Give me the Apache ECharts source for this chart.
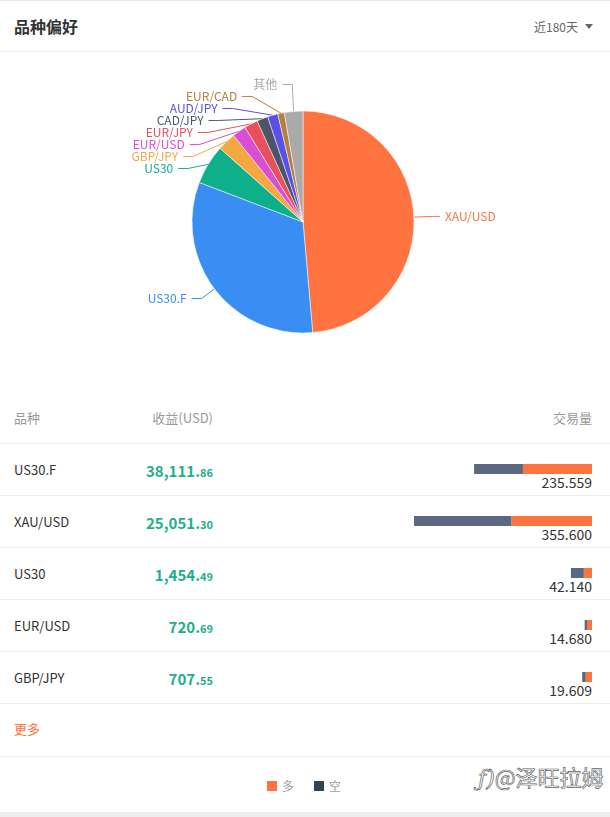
<!DOCTYPE html>
<html>
<head>
<meta charset="utf-8">
<script src="https://cdn.jsdelivr.net/npm/echarts@6/dist/echarts.min.js"></script>
<style>
  html, body { margin:0; padding:0; background:#fff; }
  body { width:610px; height:817px; position:relative; overflow:hidden;
         font-family:"Noto Sans CJK SC","Noto Sans",sans-serif; }
  .abs { position:absolute; white-space:nowrap; }
  .line { position:absolute; left:0; width:610px; height:1px; background:#ececec; }
  #chart { position:absolute; left:0; top:0; width:610px; height:817px; }
  .wm { color:#fff; -webkit-text-stroke:0.7px #666; }
</style>
</head>
<body>
<div class="line" style="top:0;background:#e6e6e6;"></div>
<div class="abs" style="left:14px;top:14px;font-size:16px;font-weight:bold;color:#333;line-height:24px;">品种偏好</div>
<div class="abs" style="right:32px;top:18px;font-size:12px;color:#666;line-height:18px;">近180天</div>
<div class="abs" style="left:585px;top:24px;width:0;height:0;border-left:4px solid transparent;border-right:4px solid transparent;border-top:5px solid #666;"></div>
<div class="line" style="top:51px;"></div>

<div class="abs" style="left:14px;top:409px;font-size:13px;color:#999;line-height:18px;">品种</div>
<div class="abs" style="right:397px;top:409px;font-size:13px;color:#999;line-height:18px;">收益(USD)</div>
<div class="abs" style="right:18px;top:409px;font-size:13px;color:#999;line-height:18px;">交易量</div>
<div class="line" style="top:443px;"></div>
<div id="rows"></div>
<div class="abs" style="left:14px;top:720px;font-size:13px;color:#ff7340;line-height:18px;">更多</div>
<div class="line" style="top:756px;"></div>
<div class="abs wm" style="left:478px;top:761px;font-size:22px;line-height:30px;"><span style="font-style:italic;font-family:'DejaVu Serif';">ƒ)</span>@泽旺拉姆</div>
<div class="abs" style="left:0;top:812px;width:610px;height:5px;background:#eeeeee;"></div>
<div id="chart"></div>
<script>
// ---- data ----
const pieNames  = ['XAU/USD','US30.F','US30','GBP/JPY','EUR/USD','EUR/JPY','CAD/JPY','AUD/JPY','EUR/CAD','其他'];
const pieValues = [355.6, 235.559, 42.14, 19.609, 14.68, 14.5, 11.8, 11.0, 7.0, 19.7];
const pieColors = ['#ff7340','#3a8ef3','#0db08a','#f5a742','#d84fd1','#e8505b','#4b5567','#5a4fe6','#b4803f','#aaaaaa'];

const rowNames  = ['US30.F','XAU/USD','US30','EUR/USD','GBP/JPY'];
const profits   = ['38,111.86','25,051.30','1,454.49','720.69','707.55'];
const longVol   = [137.959, 161.0, 16.34, 10.0, 12.5];
const shortVol  = [97.6, 194.6, 25.8, 4.68, 7.109];
const totalVol  = ['235.559','355.600','42.140','14.680','19.609'];
const legendNames = ['多','空'];

// ---- table text ----
const rowsEl = document.getElementById('rows');
let html = '';
rowNames.forEach((n, i) => {
  const top = 443 + i * 52;
  const parts = profits[i].split('.');
  html += `<div class="abs" style="left:14px;top:${top+18}px;font-size:13px;color:#333;line-height:18px;">${n}</div>`;
  html += `<div class="abs" style="right:397px;top:${top+16}px;color:#1fae8c;font-weight:bold;line-height:22px;">` +
          `<span style="font-size:15px;">${parts[0]}.</span><span style="font-size:11px;">${parts[1]}</span></div>`;
  html += `<div class="abs" style="right:18px;top:${top+30}px;font-size:14px;color:#333;line-height:18px;">${totalVol[i]}</div>`;
  html += `<div class="line" style="top:${top+52}px;"></div>`;
});
rowsEl.innerHTML = html;

// ---- chart ----
const LIFT = 11; // small-slice label stack sits a bit higher in the reference
const chart = echarts.init(document.getElementById('chart'), null, {renderer:'canvas'});
chart.setOption({
  animation:false,
  textStyle:{fontFamily:'"Noto Sans CJK SC","Noto Sans",sans-serif'},
  legend:{
    left:267, top:780, padding:0, itemWidth:10, itemHeight:10, itemGap:20,
    icon:'rect',
    textStyle:{color:'#999', fontSize:12},
    data:[{name:legendNames[0], itemStyle:{color:'#ff7340'}},
          {name:legendNames[1], itemStyle:{color:'#2f4554'}}]
  },
  grid:{left:414, right:18, top:443, height:260, containLabel:false},
  xAxis:{type:'value', inverse:true, min:0, max:355.6, show:false},
  yAxis:{type:'category', inverse:true, data:rowNames, show:false},
  series:[
    {
      type:'pie', center:[303,222], radius:111, startAngle:90, clockwise:true,
      avoidLabelOverlap:true,
      itemStyle:{borderColor:'#fff', borderWidth:0.5},
      label:{fontSize:12, lineHeight:12, padding:[-1,0,-1,0], minMargin:0},
      labelLine:{length:16, length2:10},
      labelLayout: function (params) {
        if (params.dataIndex < 2) return {};
        const pts = params.labelLinePoints;
        if (!pts || pts.length < 3) return {dy: -LIFT};
        return {
          dy: -LIFT,
          labelLinePoints: [
            [pts[0][0], pts[0][1]],
            [pts[1][0], pts[1][1] - LIFT],
            [pts[2][0], pts[2][1] - LIFT]
          ]
        };
      },
      data: pieNames.map((n,i)=>({name:n, value:pieValues[i],
        itemStyle:{color:pieColors[i]}, label:{color:pieColors[i]}})),
      legendHoverLink:false
    },
    {name:legendNames[0], type:'bar', stack:'v', barWidth:10, data:longVol, itemStyle:{color:'#ff7340'}},
    {name:legendNames[1], type:'bar', stack:'v', barWidth:10, data:shortVol, itemStyle:{color:'#5a6882'}}
  ]
});
</script>
</body>
</html>
